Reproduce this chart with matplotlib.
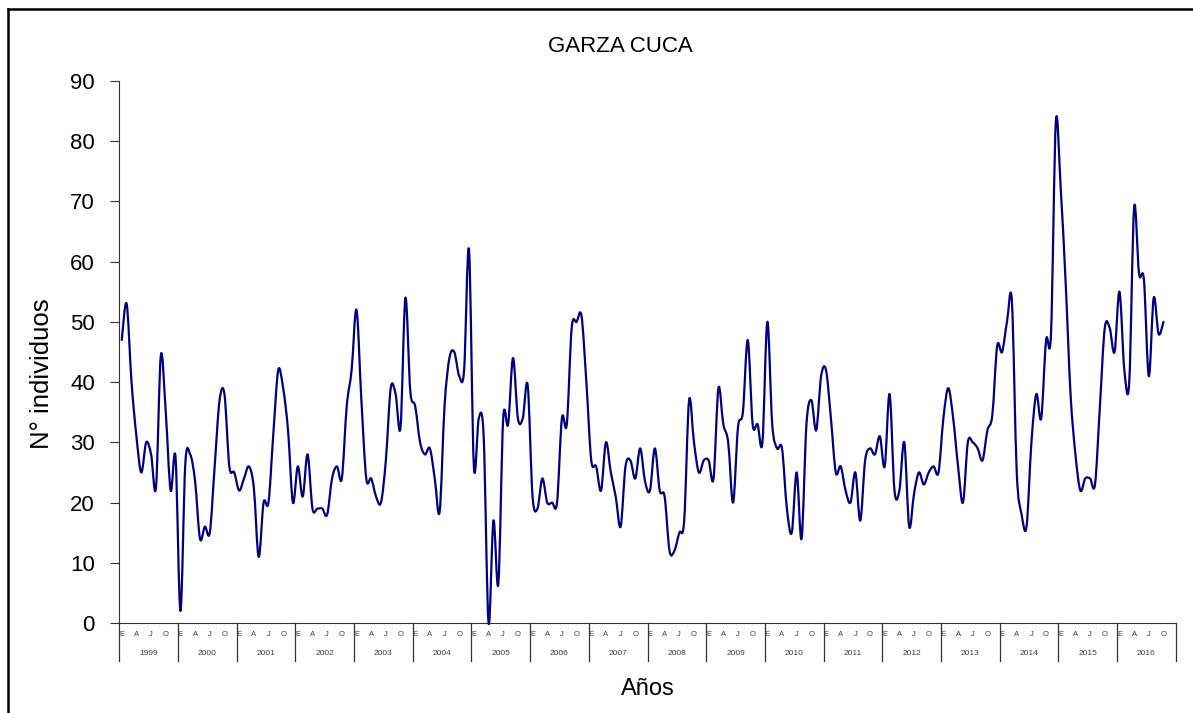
import numpy as np
import matplotlib.pyplot as plt
import matplotlib.transforms as mtransforms
from matplotlib.path import Path
from matplotlib.patches import PathPatch
from matplotlib.lines import Line2D

plt.rcParams["font.family"] = ["Liberation Sans", "DejaVu Sans"]

## DATA ##
years = [str(y) for y in range(1999, 2017)]
month_letters = ["E", "A", "J", "O"]

# monthly counts, Jan 1999 -> Oct 2016
individuos = [
    47, 53, 40, 31, 25, 30, 28, 22.5, 44.5, 35, 22, 27.5,      # 1999
    2, 26.5, 28, 23.5, 14, 16, 15, 26, 37, 38, 26, 25,         # 2000
    22, 24, 26, 22.5, 11, 20, 20, 31.5, 42, 39, 32, 20,        # 2001
    26, 21, 28, 19, 19, 19, 18, 24, 26, 24, 36, 42,            # 2002
    52, 37, 24, 24, 21, 20, 27, 39, 38, 32.5, 54, 38.5,        # 2003
    36, 30, 28, 29, 24, 18.5, 36, 44, 45, 41, 42, 62,          # 2004
    26, 34, 31, 0, 17, 6.5, 34, 33, 44, 34, 34, 39.5,          # 2005
    21, 19, 24, 20, 20, 20, 34, 33, 49, 50, 51, 40,            # 2006
    27, 26, 22, 30, 25, 21, 16, 26, 27, 24, 29, 23.5,          # 2007
    22, 29, 22, 21, 12, 12, 15, 17, 37, 30, 25, 27,            # 2008
    27, 24, 39, 33, 30, 20, 32.5, 35, 47, 33, 33, 30,          # 2009
    50, 33, 29, 29, 19, 15, 25, 14, 33, 37, 32, 41,            # 2010
    42, 34, 25, 26, 22, 20, 25, 17, 27, 29, 28, 31,            # 2011
    26, 38, 22, 22, 30, 16, 21.5, 25, 23, 25, 26, 25,          # 2012
    34, 39, 34, 26, 20, 30, 30, 29, 27, 32, 34.5, 46,          # 2013
    45, 50, 53.5, 25, 18, 16, 30, 38, 34, 47, 48, 83.3,        # 2014
    72, 56.5, 38, 28, 22, 24, 24, 23, 36, 49, 49, 45,          # 2015
    55, 42, 40, 69, 58, 57, 41, 54, 48, 50,                    # 2016
]

n_cat = 12 * len(years)

## FIGURE ##
fig = plt.figure(figsize=(11.93, 7.13), dpi=100)
ax = fig.add_axes([0.1, 0.1262, 0.8855, 0.7602])

# smoothed line (Excel style bezier through the monthly points)
x = np.arange(len(individuos), dtype=float)
y = np.array(individuos, dtype=float)
xp = np.concatenate([[x[0]], x, [x[-1]]])
yp = np.concatenate([[y[0]], y, [y[-1]]])
verts = [(x[0], y[0])]
codes = [Path.MOVETO]
for i in range(len(x) - 1):
    c1 = (x[i] + (xp[i + 2] - xp[i]) / 6, y[i] + (yp[i + 2] - yp[i]) / 6)
    c2 = (x[i + 1] - (xp[i + 3] - xp[i + 1]) / 6, y[i + 1] - (yp[i + 3] - yp[i + 1]) / 6)
    verts += [c1, c2, (x[i + 1], y[i + 1])]
    codes += [Path.CURVE4] * 3
ax.add_patch(PathPatch(Path(verts, codes), fill=False, edgecolor="#000080",
                       linewidth=1.6, capstyle="round", joinstyle="round",
                       clip_on=False, zorder=3))

ax.set_xlim(-0.5, n_cat - 0.5)
ax.set_ylim(0, 90)
ax.set_yticks(range(0, 91, 10))
ax.set_xticks([])
ax.tick_params(axis="y", direction="out", length=6.5, width=0.8,
               labelsize=16, pad=11, color="#333333")
for side in ["top", "right"]:
    ax.spines[side].set_visible(False)
ax.spines["left"].set_color("#333333")
ax.spines["bottom"].set_color("#333333")

# multi-level category axis
blend = mtransforms.blended_transform_factory(ax.transData, ax.transAxes)
for k in range(len(years) + 1):
    ax.add_line(Line2D([12 * k - 0.5] * 2, [0, -0.0701], transform=blend,
                       color="#333333", linewidth=0.9, clip_on=False))
for k, yr in enumerate(years):
    for j, lab in enumerate(month_letters):
        ax.text(12 * k + 3 * j, -0.0203, lab, transform=blend, ha="center",
                va="center", fontsize=5.5, color="#404040")
    ax.text(12 * k + 5.5, -0.0554, yr, transform=blend, ha="center",
            va="center", fontsize=6, color="#404040")

fig.text(620 / 1193, 1 - 46 / 713, "GARZA CUCA", ha="center", va="center", fontsize=16)
fig.text(42 / 1193, 1 - 374 / 713, "N° individuos", rotation=90, ha="center",
         va="center", fontsize=18.5)
fig.text(648 / 1193, 1 - 689 / 713, "Años", ha="center", va="center", fontsize=17)

# chart border (cut by the image on the right and bottom)
fig.add_artist(Line2D([8 / 1193, 1.0], [1 - 9 / 713] * 2, transform=fig.transFigure,
                      color="black", linewidth=1.8))
fig.add_artist(Line2D([8 / 1193] * 2, [0, 1 - 9 / 713], transform=fig.transFigure,
                      color="black", linewidth=1.8))

fig.savefig("out.png", dpi=100)
